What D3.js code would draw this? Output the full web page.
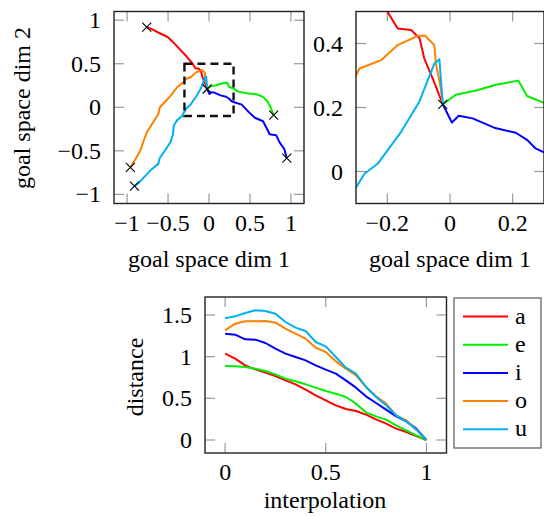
<!DOCTYPE html>
<html>
<head>
<meta charset="utf-8">
<script src="https://cdn.jsdelivr.net/npm/d3@7"></script>
<style>
  body { margin: 0; background: #fff; }
</style>
</head>
<body>
<div id="chart"></div>
<script>
// vowel trajectories in goal space (start -> common target)
var vowels = ["a", "e", "i", "o", "u"];
var colors = ["#ff0000", "#00ee00", "#0000ff", "#ff8000", "#00b0f0"];

var aX = [-0.76, -0.68, -0.60, -0.51, -0.43, -0.35, -0.27, -0.20, -0.167, -0.124, -0.097, -0.082, -0.055, -0.023];
var aY = [0.92, 0.89, 0.85, 0.81, 0.74, 0.66, 0.58, 0.50, 0.447, 0.442, 0.416, 0.353, 0.29, 0.21];

var eX = [-0.023, 0.019, 0.083, 0.147, 0.218, 0.246, 0.298, 0.36, 0.46, 0.58, 0.66, 0.72, 0.76, 0.79];
var eY = [0.21, 0.24, 0.253, 0.271, 0.284, 0.236, 0.215, 0.18, 0.16, 0.15, 0.12, 0.06, -0.02, -0.09];

var iX = [-0.023, 0.006, 0.028, 0.072, 0.141, 0.21, 0.247, 0.273, 0.30, 0.40, 0.48, 0.56, 0.66, 0.72, 0.74, 0.82, 0.86, 0.92, 0.95];
var iY = [0.21, 0.153, 0.174, 0.166, 0.137, 0.121, 0.098, 0.072, 0.06, 0.03, -0.05, -0.12, -0.16, -0.27, -0.31, -0.32, -0.40, -0.48, -0.585];

var oX = [-0.96, -0.90, -0.84, -0.80, -0.76, -0.68, -0.62, -0.60, -0.54, -0.50, -0.47, -0.39, -0.30, -0.289, -0.22, -0.167, -0.103, -0.079, -0.050, -0.045, -0.029, -0.023];
var oY = [-0.69, -0.60, -0.50, -0.39, -0.29, -0.17, -0.08, 0.0, 0.06, 0.10, 0.13, 0.23, 0.30, 0.322, 0.348, 0.395, 0.424, 0.424, 0.395, 0.337, 0.259, 0.21];

var uX = [-0.91, -0.86, -0.80, -0.72, -0.62, -0.60, -0.54, -0.47, -0.44, -0.43, -0.39, -0.33, -0.30, -0.273, -0.231, -0.156, -0.098, -0.050, -0.034, -0.023];
var uY = [-0.905, -0.87, -0.81, -0.73, -0.65, -0.58, -0.50, -0.40, -0.31, -0.21, -0.15, -0.10, -0.05, -0.007, 0.024, 0.124, 0.218, 0.337, 0.351, 0.21];

// crosses: start of a, o, u, end of e, i, common target
var markX = [-0.76, -0.96, -0.91, 0.79, 0.95, -0.023];
var markY = [0.92, -0.69, -0.905, -0.09, -0.585, 0.21];

// zoom window shown in the right panel
var zoomX = [-0.3, 0.3];
var zoomY = [-0.1, 0.5];

// distance to target vs interpolation
var interp = [0, 0.05, 0.1, 0.15, 0.2, 0.25, 0.3, 0.35, 0.4, 0.45, 0.5, 0.55, 0.6, 0.65, 0.7, 0.75, 0.8, 0.85, 0.9, 0.95, 1];
var distA = [1.036, 0.976, 0.896, 0.848, 0.808, 0.768, 0.716, 0.668, 0.604, 0.536, 0.476, 0.416, 0.372, 0.348, 0.304, 0.248, 0.196, 0.136, 0.096, 0.048, 0];
var distE = [0.888, 0.884, 0.876, 0.856, 0.828, 0.788, 0.736, 0.704, 0.668, 0.628, 0.588, 0.556, 0.516, 0.436, 0.332, 0.284, 0.244, 0.176, 0.116, 0.056, 0];
var distI = [1.276, 1.264, 1.208, 1.204, 1.164, 1.096, 1.036, 0.996, 0.956, 0.896, 0.844, 0.796, 0.716, 0.628, 0.524, 0.444, 0.364, 0.284, 0.224, 0.136, 0];
var distO = [1.316, 1.396, 1.424, 1.424, 1.428, 1.408, 1.336, 1.276, 1.216, 1.108, 1.056, 0.944, 0.856, 0.776, 0.636, 0.524, 0.436, 0.296, 0.236, 0.124, 0];
var distU = [1.46, 1.484, 1.524, 1.556, 1.548, 1.516, 1.416, 1.348, 1.308, 1.176, 1.124, 0.996, 0.868, 0.796, 0.636, 0.516, 0.416, 0.296, 0.224, 0.124, 0];

var goalTicks = [-1, -0.5, 0, 0.5, 1];
var zoomTicksX = [-0.2, 0, 0.2];
var zoomTicksY = [0, 0.2, 0.4];
var interpTicks = [0, 0.5, 1];
var distTicks = [0, 0.5, 1, 1.5];

var trajX = [aX, eX, iX, oX, uX];
var trajY = [aY, eY, iY, oY, uY];
var dists = [distA, distE, distI, distO, distU];

var W = 544, H = 516;
var FONT = "'Liberation Serif', 'DejaVu Serif', serif";
var svg = d3.select("#chart").append("svg")
    .attr("width", W)
    .attr("height", H)
    .attr("font-family", FONT);

var fmt = function(v) { return d3.format("")(v).replace("-", "\u2212"); };

function label(x, y, rot, str) {
  svg.append("text")
    .attr("transform", "translate(" + x + "," + y + ")" + (rot ? " rotate(-90)" : ""))
    .attr("text-anchor", "middle")
    .attr("font-family", FONT)
    .attr("font-size", 24)
    .text(str);
}

// draws frame, inward ticks on all four sides, tick labels
function panel(id, x, y, xt, yt) {
  var x0 = x.range()[0], x1 = x.range()[1];
  var y0 = y.range()[1], y1 = y.range()[0];
  var g = svg.append("g");
  var tl = 10;

  svg.append("clipPath").attr("id", id)
    .append("rect")
      .attr("x", x0).attr("y", y0)
      .attr("width", x1 - x0).attr("height", y1 - y0);

  xt.forEach(function(t) {
    g.append("line").attr("x1", x(t)).attr("x2", x(t)).attr("y1", y1).attr("y2", y1 - tl);
    g.append("line").attr("x1", x(t)).attr("x2", x(t)).attr("y1", y0).attr("y2", y0 + tl);
    g.append("text")
      .attr("x", x(t)).attr("y", y1 + 27)
      .attr("text-anchor", "middle")
      .attr("font-family", FONT)
      .attr("font-size", 24)
      .text(fmt(t));
  });
  yt.forEach(function(t) {
    g.append("line").attr("x1", x0).attr("x2", x0 + tl).attr("y1", y(t)).attr("y2", y(t));
    g.append("line").attr("x1", x1).attr("x2", x1 - tl).attr("y1", y(t)).attr("y2", y(t));
    g.append("text")
      .attr("x", x0 - 13).attr("y", y(t) + 8)
      .attr("text-anchor", "end")
      .attr("font-family", FONT)
      .attr("font-size", 24)
      .text(fmt(t));
  });
  g.selectAll("line").attr("stroke", "#999").attr("stroke-width", 1.2);

  return function() {
    svg.append("rect")
      .attr("x", x0).attr("y", y0)
      .attr("width", x1 - x0).attr("height", y1 - y0)
      .attr("fill", "none")
      .attr("stroke", "#222")
      .attr("stroke-width", 1.4);
  };
}

function trajectories(id, x, y) {
  var line = d3.line()
    .x(function(d) { return x(d[0]); })
    .y(function(d) { return y(d[1]); });
  var g = svg.append("g").attr("clip-path", "url(#" + id + ")");
  trajX.forEach(function(tx, k) {
    var pts = tx.map(function(v, j) { return [v, trajY[k][j]]; });
    g.append("path")
      .attr("d", line(pts))
      .attr("fill", "none")
      .attr("stroke", colors[k])
      .attr("stroke-width", 2)
      .attr("stroke-linejoin", "round");
  });
  markX.forEach(function(mx, j) {
    var cx = x(mx), cy = y(markY[j]), s = 4.5;
    g.append("path")
      .attr("d", "M" + (cx - s) + "," + (cy - s) + "L" + (cx + s) + "," + (cy + s) +
                 "M" + (cx - s) + "," + (cy + s) + "L" + (cx + s) + "," + (cy - s))
      .attr("stroke", "#000")
      .attr("stroke-width", 1.1);
  });
  return g;
}

// ---- top left: full goal space
var x1 = d3.scaleLinear().domain([-1.16, 1.16]).range([114, 304]);
var y1 = d3.scaleLinear().domain([-1.105, 1.1]).range([203.5, 11.5]);
var frame1 = panel("clipA", x1, y1, goalTicks, goalTicks);
trajectories("clipA", x1, y1);
svg.append("rect")
  .attr("x", x1(zoomX[0])).attr("y", y1(zoomY[1]))
  .attr("width", x1(zoomX[1]) - x1(zoomX[0]))
  .attr("height", y1(zoomY[0]) - y1(zoomY[1]))
  .attr("fill", "none")
  .attr("stroke", "#111")
  .attr("stroke-width", 2.4)
  .attr("stroke-dasharray", "8,5");
frame1();

label(209, 267, false, "goal space dim 1");
label(30, 108, true, "goal space dim 2");

// ---- top right: zoomed window
var x2 = d3.scaleLinear().domain(zoomX).range([356, 544]);
var y2 = d3.scaleLinear().domain(zoomY).range([203.5, 11.5]);
var frame2 = panel("clipB", x2, y2, zoomTicksX, zoomTicksY);
trajectories("clipB", x2, y2);
frame2();

label(450, 267, false, "goal space dim 1");

// ---- bottom: distance vs interpolation
var x3 = d3.scaleLinear().domain([-0.1, 1.1]).range([205, 446.5]);
var y3 = d3.scaleLinear().domain([-0.156, 1.716]).range([453, 297]);
var frame3 = panel("clipC", x3, y3, interpTicks, distTicks);

var dline = d3.line()
  .x(function(d) { return x3(d[0]); })
  .y(function(d) { return y3(d[1]); });
var gc = svg.append("g").attr("clip-path", "url(#clipC)");
dists.forEach(function(ds, k) {
  gc.append("path")
    .attr("d", dline(interp.map(function(t, j) { return [t, ds[j]]; })))
    .attr("fill", "none")
    .attr("stroke", colors[k])
    .attr("stroke-width", 2)
    .attr("stroke-linejoin", "round");
});
frame3();

label(325, 508, false, "interpolation");
label(143, 377, true, "distance");

// ---- legend
var leg = svg.append("g");
leg.append("rect")
  .attr("x", 454).attr("y", 298)
  .attr("width", 87).attr("height", 150)
  .attr("fill", "#fff")
  .attr("stroke", "#555")
  .attr("stroke-width", 1.2);
vowels.forEach(function(v, k) {
  var ly = 316.5 + k * 28.2;
  leg.append("line")
    .attr("x1", 463).attr("x2", 508)
    .attr("y1", ly).attr("y2", ly)
    .attr("stroke", colors[k])
    .attr("stroke-width", 2);
  leg.append("text")
    .attr("x", 515).attr("y", ly + 7)
    .attr("font-family", FONT)
    .attr("font-size", 24)
    .text(v);
});
</script>
</body>
</html>
